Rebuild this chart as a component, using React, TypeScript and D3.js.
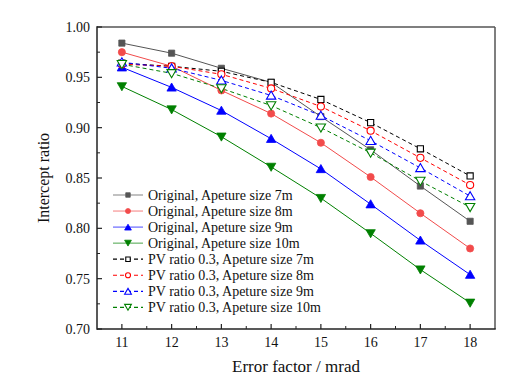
import React from 'react';
import * as d3 from 'd3';

// error factor (mrad)
const errorFactors = [11, 12, 13, 14, 15, 16, 17, 18];

const original7m = [0.984, 0.974, 0.959, 0.945, 0.911, 0.878, 0.842, 0.807];
const original8m = [0.975, 0.961, 0.937, 0.914, 0.885, 0.851, 0.815, 0.780];
const original9m = [0.960, 0.940, 0.917, 0.889, 0.859, 0.824, 0.788, 0.754];
const original10m = [0.941, 0.918, 0.891, 0.861, 0.830, 0.795, 0.759, 0.726];
const pv7m = [0.964, 0.961, 0.956, 0.945, 0.928, 0.905, 0.879, 0.852];
const pv8m = [0.963, 0.961, 0.953, 0.939, 0.921, 0.897, 0.870, 0.843];
const pv9m = [0.965, 0.959, 0.947, 0.932, 0.912, 0.887, 0.860, 0.832];
const pv10m = [0.963, 0.954, 0.939, 0.922, 0.900, 0.875, 0.847, 0.821];

const yTicks = [0.7, 0.75, 0.8, 0.85, 0.9, 0.95, 1.0];

const seriesNames = [
  'Original, Apeture size 7m',
  'Original, Apeture size 8m',
  'Original, Apeture size 9m',
  'Original, Apeture size 10m',
  'PV ratio 0.3, Apeture size 7m',
  'PV ratio 0.3, Apeture size 8m',
  'PV ratio 0.3, Apeture size 9m',
  'PV ratio 0.3, Apeture size 10m',
];

const allValues = [original7m, original8m, original9m, original10m, pv7m, pv8m, pv9m, pv10m];

// styling per series
const looks = [
  { color: '#555555', shape: 'square', open: false, dashed: false },
  { color: '#f24b4b', shape: 'circle', open: false, dashed: false },
  { color: '#0000ff', shape: 'up', open: false, dashed: false },
  { color: '#008000', shape: 'down', open: false, dashed: false },
  { color: '#000000', shape: 'square', open: true, dashed: true },
  { color: '#ff0000', shape: 'circle', open: true, dashed: true },
  { color: '#0000ff', shape: 'up', open: true, dashed: true },
  { color: '#008000', shape: 'down', open: true, dashed: true },
];

const W = 522;
const H = 382;
const m = { left: 97, top: 27, right: 495, bottom: 329 };
const font = '"Liberation Serif", "Times New Roman", serif';

const x = d3.scaleLinear().domain([10.5, 18.5]).range([m.left, m.right]);
const y = d3.scaleLinear().domain([0.7, 1.0]).range([m.bottom, m.top]);

const symbolFor = (shape: string, size: number) => {
  const t = shape === 'square' ? d3.symbolSquare : shape === 'circle' ? d3.symbolCircle : d3.symbolTriangle;
  return d3.symbol().type(t).size(size)() as string;
};

const Marker = ({ cx, cy, look, size }: any) => {
  const rot = look.shape === 'down' ? 180 : 0;
  const dy = look.shape === 'up' ? 1 : look.shape === 'down' ? -1 : 0;
  return (
    <path
      d={symbolFor(look.shape, size)}
      transform={`translate(${cx},${cy + dy}) rotate(${rot})`}
      fill={look.open ? 'white' : look.color}
      stroke={look.color}
      strokeWidth={look.open ? 1.1 : 0.8}
    />
  );
};

const App = () => {
  const line = d3
    .line<number>()
    .x((_, i) => x(errorFactors[i]))
    .y((d) => y(d));

  const minorY = d3.range(0.725, 1.0, 0.05);
  const minorX = d3.range(11.5, 18.5, 1);

  const legendX = 113;
  const legendY = 195;
  const legendStep = 16.05;

  return (
    <svg width={W} height={H} style={{ position: 'absolute', left: 0, top: 0, background: 'white' }}>
      {/* series */}
      {allValues.map((vals, s) => (
        <path
          key={'l' + s}
          d={line(vals) as string}
          fill="none"
          stroke={looks[s].color}
          strokeWidth={1}
          strokeDasharray={looks[s].dashed ? '4 3' : undefined}
        />
      ))}
      {allValues.map((vals, s) =>
        vals.map((v, i) => (
          <Marker key={`m${s}-${i}`} cx={x(errorFactors[i])} cy={y(v)} look={looks[s]} size={looks[s].shape === 'circle' ? 40 : 38} />
        ))
      )}

      {/* frame */}
      <line x1={m.left} x2={m.right} y1={m.top} y2={m.top} stroke="#555" strokeWidth={1.5} />
      <line x1={m.right} x2={m.right} y1={m.top} y2={m.bottom} stroke="#555" strokeWidth={1.5} />
      <line x1={m.left} x2={m.left} y1={m.top - 0.75} y2={m.bottom + 0.75} stroke="#222" strokeWidth={1.5} />
      <line x1={m.left} x2={m.right + 0.75} y1={m.bottom} y2={m.bottom} stroke="#222" strokeWidth={1.5} />

      {/* y ticks */}
      {yTicks.map((t) => (
        <g key={'yt' + t}>
          <line x1={m.left} x2={m.left + 5} y1={y(t)} y2={y(t)} stroke="#222" strokeWidth={1.2} />
          <text x={90} y={y(t)} dy="0.35em" textAnchor="end" fontFamily={font} fontSize={14} fill="#111">
            {t.toFixed(2)}
          </text>
        </g>
      ))}
      {minorY.map((t) => (
        <line key={'ym' + t} x1={m.left} x2={m.left + 3} y1={y(t)} y2={y(t)} stroke="#222" strokeWidth={1} />
      ))}

      {/* x ticks */}
      {errorFactors.map((t) => (
        <g key={'xt' + t}>
          <line x1={x(t)} x2={x(t)} y1={m.bottom} y2={m.bottom - 5} stroke="#222" strokeWidth={1.2} />
          <text x={x(t)} y={342} dy="0.35em" textAnchor="middle" fontFamily={font} fontSize={14} fill="#111">
            {t}
          </text>
        </g>
      ))}
      {minorX.map((t) => (
        <line key={'xm' + t} x1={x(t)} x2={x(t)} y1={m.bottom} y2={m.bottom - 3} stroke="#222" strokeWidth={1} />
      ))}

      {/* axis titles */}
      <text x={(m.left + m.right) / 2} y={366} dy="0.35em" textAnchor="middle" fontFamily={font} fontSize={17} fill="#111">
        Error factor / mrad
      </text>
      <text
        transform={`translate(43,${(m.top + m.bottom) / 2}) rotate(-90)`}
        dy="0.35em"
        textAnchor="middle"
        fontFamily={font}
        fontSize={16}
        fill="#111"
      >
        Intercept ratio
      </text>

      {/* legend */}
      {seriesNames.map((name, s) => {
        const ly = legendY + s * legendStep;
        return (
          <g key={'lg' + s}>
            <line
              x1={legendX}
              x2={legendX + 30}
              y1={ly}
              y2={ly}
              stroke={looks[s].color}
              strokeOpacity={looks[s].dashed ? 1 : 0.6}
              strokeWidth={1.2}
              strokeDasharray={looks[s].dashed ? '4 3' : undefined}
            />
            <Marker cx={legendX + 15} cy={ly} look={looks[s]} size={20} />
            <text x={148} y={ly} dy="0.35em" fontFamily={font} fontSize={14} fill="#111">
              {name}
            </text>
          </g>
        );
      })}
    </svg>
  );
};

export default App;
